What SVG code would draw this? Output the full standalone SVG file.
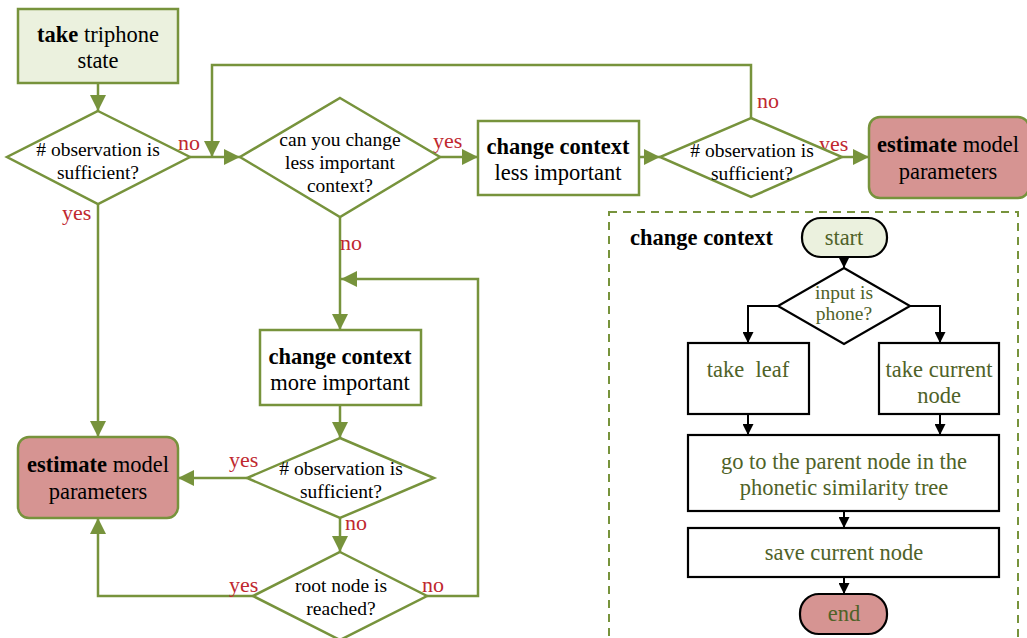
<svg xmlns="http://www.w3.org/2000/svg" width="1027" height="638" viewBox="0 0 1027 638">
  <style>
    .g { fill: none; stroke: #77933c; stroke-width: 2.5; }
    .gnode { stroke: #77933c; stroke-width: 2.5; }
    .k { fill: none; stroke: #000; stroke-width: 2; }
    .knode { stroke: #000; stroke-width: 2.2; }
    text { font-family: "Liberation Serif", "Times New Roman", serif; text-anchor: middle; }
    .t21 { font-size: 22.5px; fill: #000; }
    .t18 { font-size: 19.5px; fill: #000; }
    .lab { font-size: 22px; fill: #c0282f; text-anchor: start; }
    .in { font-size: 22.5px; fill: #4f6228; }
    .b { font-weight: bold; }
  </style>
  <defs>
    <marker id="ag" markerUnits="userSpaceOnUse" markerWidth="16" markerHeight="16" viewBox="0 0 16 16" refX="16" refY="8" orient="auto">
      <path d="M0,0 L16,8 L0,16 Z" fill="#77933c"/>
    </marker>
    <marker id="ak" markerUnits="userSpaceOnUse" markerWidth="11" markerHeight="11" viewBox="0 0 11 11" refX="11" refY="5.5" orient="auto">
      <path d="M0,0 L11,5.5 L0,11 Z" fill="#000"/>
    </marker>
  </defs>

  <rect width="1027" height="638" fill="#fff"/>

  <!-- connectors of the main flow -->
  <g id="connectors">
    <line class="g" x1="98" y1="83" x2="98" y2="111" marker-end="url(#ag)"/>
    <line class="g" x1="190" y1="157" x2="240" y2="157" marker-end="url(#ag)"/>
    <polyline class="g" points="751,118 751,65 212,65 212,157" marker-end="url(#ag)"/>
    <line class="g" x1="440" y1="157" x2="478" y2="157" marker-end="url(#ag)"/>
    <line class="g" x1="639" y1="157" x2="660" y2="157" marker-end="url(#ag)"/>
    <line class="g" x1="842" y1="157" x2="869" y2="157" marker-end="url(#ag)"/>
    <line class="g" x1="98" y1="204" x2="98" y2="437" marker-end="url(#ag)"/>
    <line class="g" x1="340" y1="217" x2="340" y2="330" marker-end="url(#ag)"/>
    <polyline class="g" points="427,596 478,596 478,279 341,279" marker-end="url(#ag)"/>
    <line class="g" x1="340" y1="405" x2="340" y2="438" marker-end="url(#ag)"/>
    <line class="g" x1="247" y1="478" x2="178" y2="478" marker-end="url(#ag)"/>
    <line class="g" x1="340" y1="518" x2="340" y2="552" marker-end="url(#ag)"/>
    <polyline class="g" points="253,596 98,596 98,518" marker-end="url(#ag)"/>
  </g>

  <!-- branch labels -->
  <g id="labels">
    <text class="lab" x="178" y="150">no</text>
    <text class="lab" x="62" y="220">yes</text>
    <text class="lab" x="433" y="148">yes</text>
    <text class="lab" x="340" y="250">no</text>
    <text class="lab" x="757" y="108">no</text>
    <text class="lab" x="819" y="151">yes</text>
    <text class="lab" x="229" y="467">yes</text>
    <text class="lab" x="345" y="530">no</text>
    <text class="lab" x="229" y="592">yes</text>
    <text class="lab" x="422" y="592">no</text>
  </g>

  <g id="take-triphone">
    <rect class="gnode" x="18" y="9" width="160" height="74" fill="#ebf1de"/>
    <text class="t21" x="98" y="42"><tspan class="b">take</tspan> triphone</text>
    <text class="t21" x="98" y="68">state</text>
  </g>

  <g id="obs-sufficient-1">
    <polygon class="gnode" points="98,111 190,157 98,204 7,157" fill="#fff"/>
    <text class="t18" x="98" y="156"># observation is</text>
    <text class="t18" x="98" y="179">sufficient?</text>
  </g>

  <g id="can-change">
    <polygon class="gnode" points="340,98 440,157 340,217 240,157" fill="#fff"/>
    <text class="t18" x="340" y="146">can you change</text>
    <text class="t18" x="340" y="169">less important</text>
    <text class="t18" x="340" y="192">context?</text>
  </g>

  <g id="change-less">
    <rect class="gnode" x="478" y="121" width="161" height="74" fill="#fff"/>
    <text class="t21 b" x="558" y="154">change context</text>
    <text class="t21" x="558" y="180">less important</text>
  </g>

  <g id="obs-sufficient-2">
    <polygon class="gnode" points="751,118 842,157 751,197 660,157" fill="#fff"/>
    <text class="t18" x="752" y="157"># observation is</text>
    <text class="t18" x="752" y="180">sufficient?</text>
  </g>

  <g id="estimate-right">
    <rect class="gnode" x="869" y="117" width="160" height="81" rx="11" fill="#d69492"/>
    <text class="t21" x="948" y="152"><tspan class="b">estimate</tspan> model</text>
    <text class="t21" x="948" y="179">parameters</text>
  </g>

  <g id="change-more">
    <rect class="gnode" x="260" y="330" width="161" height="75" fill="#fff"/>
    <text class="t21 b" x="340" y="364">change context</text>
    <text class="t21" x="340" y="390">more important</text>
  </g>

  <g id="obs-sufficient-3">
    <polygon class="gnode" points="340,438 434,478 340,518 247,478" fill="#fff"/>
    <text class="t18" x="341" y="475"># observation is</text>
    <text class="t18" x="341" y="498">sufficient?</text>
  </g>

  <g id="root-reached">
    <polygon class="gnode" points="340,552 427,596 340,640 253,596" fill="#fff"/>
    <text class="t18" x="341" y="592">root node is</text>
    <text class="t18" x="341" y="615">reached?</text>
  </g>

  <g id="estimate-left">
    <rect class="gnode" x="18" y="437" width="160" height="81" rx="11" fill="#d69492"/>
    <text class="t21" x="98" y="472"><tspan class="b">estimate</tspan> model</text>
    <text class="t21" x="98" y="499">parameters</text>
  </g>

  <!-- sub-procedure: change context -->
  <g id="change-context-procedure">
    <rect x="609" y="212" width="409" height="440" fill="none" stroke="#77933c" stroke-width="2" stroke-dasharray="8,6"/>
    <text class="t21 b" x="630" y="245" style="text-anchor:start">change context</text>

    <g id="sub-connectors">
      <line class="k" x1="844" y1="257" x2="844" y2="268" marker-end="url(#ak)"/>
      <polyline class="k" points="778,306 748,306 748,343" marker-end="url(#ak)"/>
      <polyline class="k" points="910,306 940,306 940,343" marker-end="url(#ak)"/>
      <line class="k" x1="748" y1="414" x2="748" y2="435" marker-end="url(#ak)"/>
      <line class="k" x1="940" y1="414" x2="940" y2="435" marker-end="url(#ak)"/>
      <line class="k" x1="844" y1="511" x2="844" y2="528" marker-end="url(#ak)"/>
      <line class="k" x1="844" y1="577" x2="844" y2="594" marker-end="url(#ak)"/>
    </g>

    <g id="start">
      <rect class="knode" x="802" y="218" width="85" height="39" rx="19" fill="#ebf1de"/>
      <text class="in" x="844" y="245">start</text>
    </g>
    <g id="input-phone">
      <polygon class="knode" points="844,268 910,306 844,344 778,306" fill="#fff"/>
      <text class="in" x="844" y="299" style="font-size:19.5px">input is</text>
      <text class="in" x="844" y="320" style="font-size:19.5px">phone?</text>
    </g>
    <g id="take-leaf">
      <rect class="knode" x="688" y="343" width="121" height="71" fill="#fff"/>
      <text class="in" x="748" y="377" xml:space="preserve">take  leaf</text>
    </g>
    <g id="take-current">
      <rect class="knode" x="879" y="343" width="120" height="71" fill="#fff"/>
      <text class="in" x="939" y="377">take current</text>
      <text class="in" x="939" y="403">node</text>
    </g>
    <g id="go-parent">
      <rect class="knode" x="688" y="435" width="311" height="76" fill="#fff"/>
      <text class="in" x="844" y="469">go to the parent node in the</text>
      <text class="in" x="844" y="495">phonetic similarity tree</text>
    </g>
    <g id="save-node">
      <rect class="knode" x="688" y="528" width="311" height="49" fill="#fff"/>
      <text class="in" x="844" y="560">save current node</text>
    </g>
    <g id="end">
      <rect class="knode" x="800" y="594" width="87" height="40" rx="19" fill="#d69492"/>
      <text class="in" x="844" y="621">end</text>
    </g>
  </g>
</svg>
